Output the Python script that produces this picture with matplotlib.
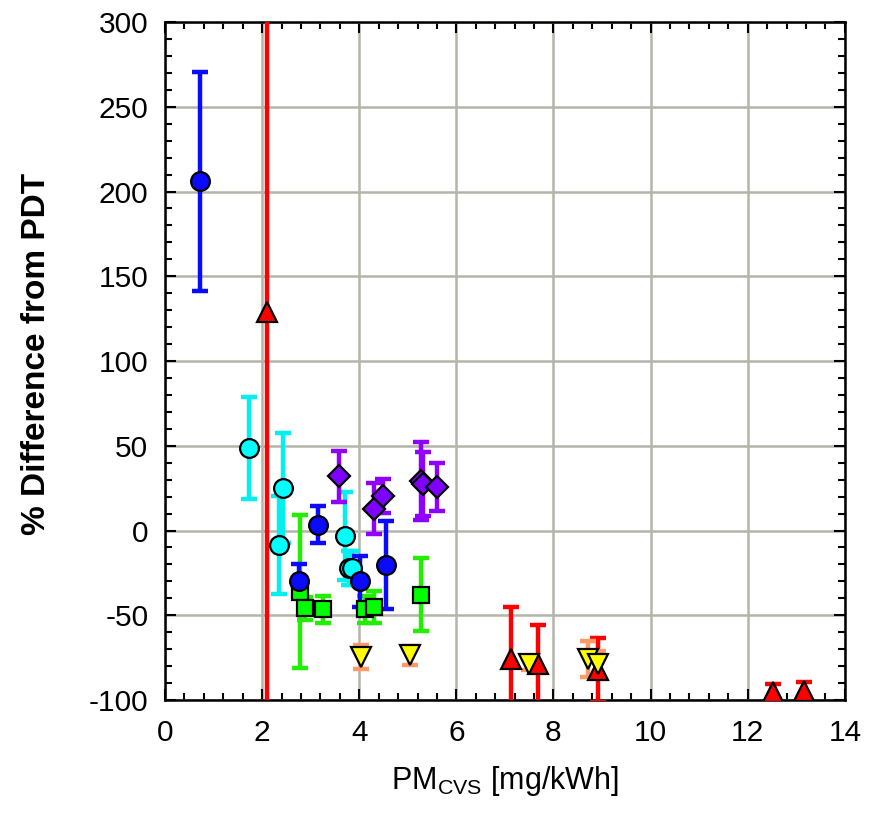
import matplotlib.pyplot as plt
from matplotlib.ticker import MultipleLocator

plt.rcParams['font.family'] = ['Liberation Sans', 'DejaVu Sans']
plt.rcParams['axes.unicode_minus'] = False

# PM measured by CVS [mg/kWh], % difference from PDT and error half-widths
blue_x = [0.72, 3.15, 2.76, 4.02, 4.55]
blue_y = [206, 3.5, -30, -30, -20.5]
blue_err = [64.5, 11, 10, 15, 26]

cyan_x = [1.74, 2.44, 2.34, 3.71, 3.78, 3.85]
cyan_y = [48.6, 25.2, -8.5, -3.4, -22, -22]
cyan_err = [30, 32.5, 29, 26, 10, 10]

green_x = [2.78, 2.89, 3.26, 4.12, 4.3, 5.28]
green_y = [-36, -46, -46.6, -46.6, -45, -38]
green_err = [45, 7, 8, 8, 9.5, 21.5]

purple_x = [3.59, 4.3, 4.49, 5.27, 5.32, 5.6]
purple_y = [32, 12.8, 20.2, 29, 27.5, 25.8]
purple_err = [15, 15, 10, 23, 19, 14]

red_x = [2.1, 7.13, 7.68, 8.91, 12.53, 13.16]
red_y = [128.8, -75.7, -79, -82.4, -95.4, -94.4]
red_err = [600, 30.5, 23.5, 19, 5, 5]

yellow_x = [4.04, 5.04, 7.49, 8.71, 8.91]
yellow_y = [-74.5, -73.7, -78.5, -75.7, -79]
yellow_err = [7, 5.7, 4, 10.6, 8]

# (x, y, err, marker, face, bar colour, marker size)
series = [
    (red_x, red_y, red_err, '^', '#ff0000', '#ff0000', 14),
    (green_x, green_y, green_err, 's', '#00ff00', '#22ee00', 12),
    (cyan_x, cyan_y, cyan_err, 'o', '#00ffff', '#00f0f0', 13.5),
    (blue_x, blue_y, blue_err, 'o', '#0a0aff', '#0a0aff', 13.5),
    (purple_x, purple_y, purple_err, 'D', '#8000ff', '#9000ff', 11.5),
    (yellow_x, yellow_y, yellow_err, 'v', '#ffff00', '#ff9966', 14),
]

fig = plt.figure(figsize=(8.71, 8.17), dpi=100)
ax = fig.add_axes([0.1894, 0.1432, 0.7806, 0.8298])

for x, y, err, mk, face, bar, ms in series:
    ax.errorbar(x, y, yerr=err, fmt='none', ecolor=bar, elinewidth=3.2,
                capsize=6, capthick=3.2, zorder=3)
    ax.plot(x, y, linestyle='none', marker=mk, markersize=ms,
            markerfacecolor=face, markeredgecolor='black',
            markeredgewidth=1.6, zorder=4)

ax.set_xlim(0, 14)
ax.set_ylim(-100, 300)
ax.xaxis.set_major_locator(MultipleLocator(2))
ax.xaxis.set_minor_locator(MultipleLocator(0.4))
ax.yaxis.set_major_locator(MultipleLocator(50))
ax.yaxis.set_minor_locator(MultipleLocator(10))
ax.grid(True, which='major', color='#b4b4aa', linewidth=1.8, zorder=0)
ax.set_axisbelow(True)

ax.tick_params(which='both', direction='in', top=True, right=True,
               width=1.5, labelsize=21.5)
ax.tick_params(axis='x', pad=14)
ax.tick_params(axis='y', pad=12)
ax.tick_params(which='major', length=8)
ax.tick_params(which='minor', length=5)
for s in ax.spines.values():
    s.set_linewidth(1.8)

ax.set_xlabel('PM$_{\\mathregular{CVS}}$ [mg/kWh]', fontsize=22, labelpad=12)
ax.set_ylabel('% Difference from PDT', fontsize=24, fontweight='bold')
ax.yaxis.set_label_coords(-0.166, 0.51)

fig.savefig('out.png', dpi=100)
